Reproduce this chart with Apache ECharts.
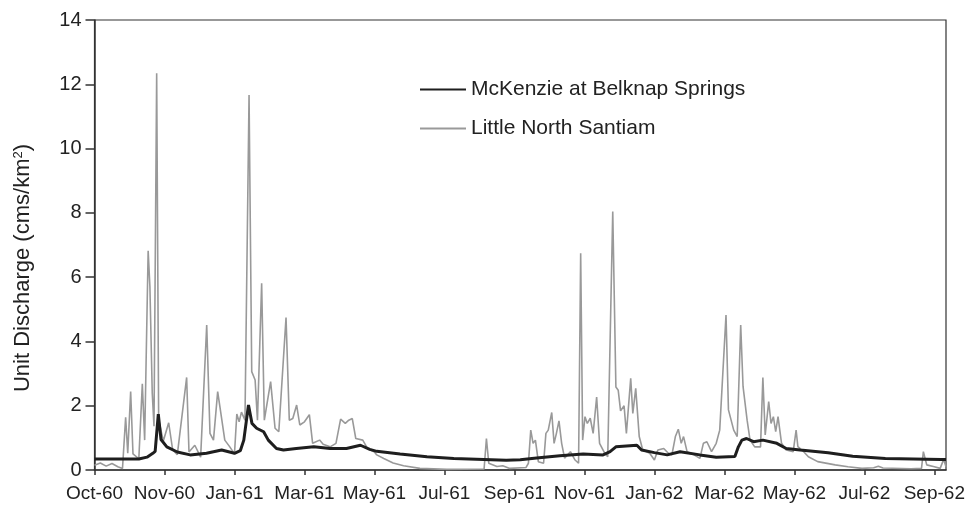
<!DOCTYPE html>
<html>
<head>
<meta charset="utf-8">
<script src="https://cdn.jsdelivr.net/npm/echarts/dist/echarts.min.js"></script>
<style>
html,body{margin:0;padding:0;background:#fff;}
#chart{width:970px;height:508px;}
</style>
</head>
<body>
<div id="chart"></div>
<script>
// Days since 1 Oct 1960; tick label every 60 days
const tickLabels = ['Oct-60','Nov-60','Jan-61','Mar-61','May-61','Jul-61','Sep-61','Nov-61','Jan-62','Mar-62','May-62','Jul-62','Sep-62'];

const mckDays = [0,38,45,50,52,54.7,57,62,71,82,96,109,120,125,128,132,135,139,145,149,156,162,173,188,202,216,228,236,242,262,285,308,353,365,379,399,419,436,442,447,465,469,480,491,502,519,533,549,552,555,559,565,573,585,593,605,629,650,678,726,730];
const mckValues = [0.34,0.34,0.40,0.52,0.58,1.74,0.95,0.72,0.56,0.47,0.52,0.62,0.52,0.60,0.93,2.02,1.45,1.30,1.19,0.93,0.67,0.62,0.67,0.72,0.67,0.67,0.77,0.64,0.58,0.50,0.41,0.36,0.30,0.32,0.37,0.44,0.50,0.47,0.57,0.72,0.77,0.62,0.54,0.47,0.57,0.47,0.40,0.42,0.72,0.93,0.98,0.88,0.93,0.83,0.67,0.62,0.54,0.43,0.36,0.33,0.33];

const lnsDays = [0,5,10,15,20,24,26.7,28.5,31,33,38,41,43,46,47.5,49.5,51,53.3,55,59,63.6,67,71,79,81,86,91,96.2,99,102,105.6,107.5,111.7,116,120,122,124,126,129,132.5,134.8,137.7,139.7,143.3,145.6,151,154.8,158,164.2,167,170,173.3,176,180,184.2,187,193,196,202,207,211,215,218,221,224,230,234,240,242,248,256,265,279,302,334,336,338,345,350,356,370,372,374,376,378,380.5,385,387,389,392,394,396,398.2,400.5,403,408,412,415,416.8,418.5,420.5,422.5,425,427.5,430.5,433,437.5,440,444.3,447,449,451,454,456,459.7,461.5,464,467,470,476,480,483,488,492,495,498,500.5,503,505,508,514,519,522,525,529,533,536,541.4,543.5,548,551,554,556,559.5,562,566,571,573,575,578,580,582,584,586,589,593,599,601.5,603,608,612,620,635,646,658,668,672,676,700,709,710.6,713.5,720,725,728,730];
const lnsValues = [0.15,0.22,0.12,0.20,0.10,0.05,1.64,0.52,2.44,0.50,0.35,2.68,0.93,6.82,5.70,2.40,1.36,12.34,1.57,0.90,1.47,0.63,0.48,2.88,0.56,0.77,0.40,4.51,1.14,0.93,2.44,1.97,0.93,0.72,0.50,1.74,1.50,1.80,1.55,11.67,3.06,2.80,1.55,5.81,1.55,2.75,1.30,1.19,4.74,1.55,1.60,2.02,1.40,1.50,1.72,0.83,0.93,0.80,0.72,0.83,1.58,1.45,1.55,1.60,0.98,0.93,0.67,0.56,0.47,0.36,0.22,0.13,0.05,0.02,0.03,0.98,0.21,0.11,0.13,0.05,0.08,0.21,1.24,0.83,0.93,0.26,0.21,1.14,1.24,1.79,0.83,1.14,1.53,0.83,0.37,0.57,0.31,0.21,6.74,0.93,1.66,1.45,1.61,1.14,2.27,0.83,0.52,0.41,8.04,2.58,2.48,1.84,2.00,1.14,2.85,1.76,2.54,1.04,0.62,0.52,0.31,0.62,0.67,0.52,0.47,1.04,1.27,0.83,1.04,0.57,0.47,0.36,0.83,0.88,0.57,0.83,1.24,4.82,1.87,1.24,1.04,4.51,2.60,1.55,0.93,0.72,0.72,2.88,1.09,2.13,1.45,1.66,1.19,1.66,0.83,0.62,0.57,1.24,0.73,0.57,0.41,0.26,0.16,0.10,0.05,0.07,0.12,0.06,0.04,0.05,0.57,0.16,0.10,0.05,0.33,0.10];

const seriesNames = ['McKenzie at Belknap Springs','Little North Santiam'];

const zip = (xs, ys) => xs.map((d, i) => [d, ys[i]]);

const chart = echarts.init(document.getElementById('chart'));
const font = '"Liberation Sans", Arial, sans-serif';
chart.setOption({
  animation: false,
  backgroundColor: '#fff',
  textStyle: { fontFamily: font },
  grid: { left: 94.5, right: 24, top: 20, bottom: 38, show: true, borderColor: '#333', borderWidth: 1.2, backgroundColor: 'transparent' },
  legend: {
    orient: 'vertical',
    left: 414,
    top: 74,
    itemWidth: 46,
    itemHeight: 14,
    itemGap: 18,
    itemStyle: { opacity: 0, borderWidth: 0 },
    data: seriesNames,
    textStyle: { fontFamily: font, fontSize: 21, color: '#222', lineHeight: 21 }
  },
  xAxis: {
    type: 'value',
    min: 0,
    max: 730,
    interval: 60,
    axisLine: { show: true, onZero: false, lineStyle: { color: '#333', width: 1.5 } },
    axisTick: { show: true, length: 5, lineStyle: { color: '#333', width: 1.5 } },
    splitLine: { show: false },
    axisLabel: {
      margin: 14,
      fontSize: 19,
      color: '#222',
      fontFamily: font,
      showMaxLabel: false,
      formatter: v => (v % 60 === 0 && tickLabels[v / 60]) ? tickLabels[v / 60] : ''
    }
  },
  yAxis: {
    type: 'value',
    min: 0,
    max: 14,
    interval: 2,
    name: 'Unit Discharge (cms/km{sup|2})',
    nameLocation: 'middle',
    nameRotate: 90,
    nameGap: 61,
    nameTextStyle: {
      fontFamily: font, fontSize: 22, color: '#222', padding: [0, 46, 0, 0],
      rich: { sup: { fontSize: 13, verticalAlign: 'top', padding: [0, 0, 9, 0], fontFamily: font, color: '#222' } }
    },
    axisLine: { show: true, lineStyle: { color: '#333', width: 1.5 } },
    axisTick: { show: true, length: 9, lineStyle: { color: '#333', width: 1.5 } },
    splitLine: { show: false },
    axisLabel: { margin: 13, fontSize: 20, color: '#222', fontFamily: font }
  },
  series: [
    {
      name: seriesNames[0], type: 'line', data: zip(mckDays, mckValues),
      showSymbol: false, symbol: 'none', z: 3,
      lineStyle: { color: '#1e1e1e', width: 3 }, itemStyle: { color: '#1e1e1e' }
    },
    {
      name: seriesNames[1], type: 'line', data: zip(lnsDays, lnsValues),
      showSymbol: false, symbol: 'none', z: 2,
      lineStyle: { color: '#999', width: 1.6 }, itemStyle: { color: '#999' }
    }
  ]
});
</script>
</body>
</html>
